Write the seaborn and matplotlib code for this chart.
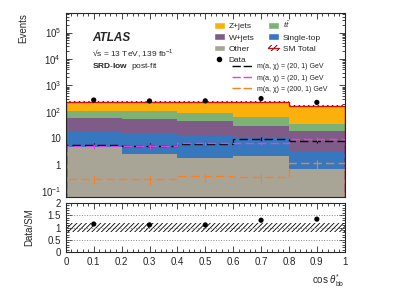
import matplotlib
matplotlib.use('Agg')
import matplotlib.pyplot as plt
import seaborn as sns
import numpy as np
import pandas as pd
from matplotlib.patches import Patch
from matplotlib.lines import Line2D
from matplotlib.ticker import FixedLocator, MultipleLocator, NullFormatter

# Data
edges = [0.0, 0.2, 0.4, 0.6, 0.8, 1.0]
centers = [0.1, 0.3, 0.5, 0.7, 0.9]

processes = ['Z+jets', r'$t\bar{t}$', 'W+jets', 'Single-top', 'Other']
zjets = [133, 124, 146, 180, 136]
ttbar = [54, 55, 45, 35, 15]
wjets = [38.5, 39.5, 32, 18.5, 15.6]
single_top = [14.9, 12.0, 10.3, 9.4, 2.7]
other = [4.6, 2.5, 1.74, 2.1, 0.68]

data = [280, 258, 260, 318, 228]
sm_unc = 0.18  # relative uncertainty of SM total

sig_labels = ['m(a, χ) = (20, 1) GeV', 'm(a, χ) = (20, 1) GeV', 'm(a, χ) = (200, 1) GeV']
sig_20_black = [5.6, 5.3, 6.3, 9.1, 8.1]
sig_20_magenta = [5.1, 5.0, 6.5, 6.8, 9.7]
sig_200 = [0.30, 0.28, 0.36, 0.34, 1.12]
sig_rel_err = [0.2, 0.2, 0.4]

colors = {'Z+jets': '#fbb00c', r'$t\bar{t}$': '#7cb276', 'W+jets': '#7f5b87',
          'Single-top': '#3777be', 'Other': '#a9a596'}

# Table for seaborn
rows = []
for proc, vals in zip(processes, [zjets, ttbar, wjets, single_top, other]):
    for c, v in zip(centers, vals):
        rows.append({'x': c, 'w': v, 'proc': proc})
df = pd.DataFrame(rows)

total = np.array(zjets) + np.array(ttbar) + np.array(wjets) + np.array(single_top) + np.array(other)
ratio = np.array(data) / total

sns.set_style('ticks')
plt.rcParams['font.family'] = ['Liberation Sans', 'DejaVu Sans']
plt.rcParams['mathtext.fontset'] = 'custom'
plt.rcParams['mathtext.rm'] = 'Liberation Sans'
plt.rcParams['mathtext.it'] = 'Liberation Sans:italic'
plt.rcParams['mathtext.bf'] = 'Liberation Sans:bold'
plt.rcParams['hatch.linewidth'] = 0.6

fig = plt.figure(figsize=(3.99, 2.88), dpi=100)
ax = fig.add_axes([0.165, 0.316, 0.699, 0.639])
ax2 = fig.add_axes([0.165, 0.125, 0.699, 0.170])

sns.histplot(data=df, x='x', weights='w', hue='proc', hue_order=processes, bins=edges,
             multiple='stack', element='step', fill=True, alpha=1, linewidth=0,
             palette=colors, legend=False, ax=ax)
ax.set_yscale('log')

# SM total with hatched uncertainty
ax.stairs(total * (1 + sm_unc * 0.5), edges, baseline=total * (1 - sm_unc * 0.3), fill=True,
          facecolor='none', edgecolor='black', hatch='///////', linewidth=0)
ax.stairs(total, edges, color='#d01010', linewidth=1.0)

# signals
sig_colors = ['black', '#e040e8', '#ff7f1e']
for vals, col, rel in zip([sig_20_black, sig_20_magenta, sig_200], sig_colors, sig_rel_err):
    ax.stairs(vals, edges, color=col, linewidth=1.0, linestyle=(0, (6, 3)))
    ax.errorbar(centers, vals, yerr=np.array(vals) * rel, fmt='none', ecolor=col, elinewidth=0.8)

# data
ax.errorbar(centers, data, yerr=np.sqrt(data), fmt='none', ecolor='black', elinewidth=0.8)
sns.scatterplot(x=centers, y=data, color='black', s=14, edgecolor='none', ax=ax, zorder=5)

ax.set_xlim(0, 1)
ax.set_ylim(0.06, 5.5e5)
ax.set_xlabel('')
ax.set_ylabel('Events', loc='top', fontsize=7)
ax.set_xticklabels([])
major = [0.1, 1, 10, 100, 1e3, 1e4, 1e5]
ax.yaxis.set_major_locator(FixedLocator(major))
ax.set_yticklabels([r'$10^{-1}$', '1', '10', r'$10^{2}$', r'$10^{3}$', r'$10^{4}$', r'$10^{5}$'])
minor = [m * 10.0 ** e for e in range(-2, 6) for m in range(2, 10)]
ax.yaxis.set_minor_locator(FixedLocator(minor))
ax.yaxis.set_minor_formatter(NullFormatter())

# labels
ax.text(0.093, 0.865, 'ATLAS', transform=ax.transAxes, fontsize=8.5, fontweight='bold',
        fontstyle='italic', va='center')
ax.text(0.093, 0.78, '\u221as = 13 TeV, 139 fb$^{-1}$', transform=ax.transAxes, fontsize=6, va='center')
ax.text(0.093, 0.71, r'$\mathbf{SRD\text{-}low}$  post-fit', transform=ax.transAxes, fontsize=6, va='center')

# legends
sm_handle = (Patch(facecolor='white', edgecolor='black', hatch='//////', linewidth=0),
             Line2D([0], [0], color='#d01010', linewidth=1.0))
handles = [Patch(facecolor=colors['Z+jets']), Patch(facecolor=colors['W+jets']),
           Patch(facecolor=colors['Other']),
           Line2D([0], [0], color='black', marker='o', markersize=3, linestyle='none'),
           Patch(facecolor=colors[r'$t\bar{t}$']), Patch(facecolor=colors['Single-top']),
           sm_handle]
labels = ['Z+jets', 'W+jets', 'Other', 'Data', r'$t\bar{t}$', 'Single-top', 'SM Total']
leg1 = ax.legend(handles, labels, ncol=2, loc='upper left', bbox_to_anchor=(0.515, 0.985),
                 frameon=False, fontsize=6, handlelength=1.4, handleheight=0.9,
                 labelspacing=0.35, columnspacing=1.6, handletextpad=0.4, borderpad=0)
ax.add_artist(leg1)
sig_handles = [Line2D([0], [0], color=c, linewidth=1.0, linestyle=(0, (6, 2))) for c in sig_colors]
ax.legend(sig_handles, sig_labels, loc='upper left', bbox_to_anchor=(0.585, 0.745),
          frameon=False, fontsize=5, handlelength=3.0, labelspacing=0.6, handletextpad=0.5,
          borderpad=0)

# ratio panel
ax2.stairs(1 + sm_unc * np.ones(5), edges, baseline=1 - sm_unc * np.ones(5), fill=True,
           facecolor='none', edgecolor='black', hatch='///////', linewidth=0)
for yv in [0.5, 1.0, 1.5]:
    ax2.axhline(yv, color='#888888', linestyle=':', linewidth=0.7)
sns.scatterplot(x=centers, y=ratio, color='black', s=14, edgecolor='none', ax=ax2, zorder=5)
ax2.set_xlim(0, 1)
ax2.set_ylim(0, 2)
ax2.set_yticks([0, 0.5, 1, 1.5, 2])
ax2.set_yticklabels(['0', '0.5', '1', '1.5', '2'])
ax2.yaxis.set_minor_locator(MultipleLocator(0.1))
ax2.set_xticks([0, 0.1, 0.2, 0.3, 0.4, 0.5, 0.6, 0.7, 0.8, 0.9, 1])
ax2.set_xticklabels(['0', '0.1', '0.2', '0.3', '0.4', '0.5', '0.6', '0.7', '0.8', '0.9', '1'])
ax2.xaxis.set_minor_locator(MultipleLocator(0.02))
ax.xaxis.set_major_locator(MultipleLocator(0.1))
ax.xaxis.set_minor_locator(MultipleLocator(0.02))
ax2.set_ylabel('Data/SM', fontsize=7)
ax2.set_xlabel(r'cos $\theta^{*}_{\rm bb}$', loc='right', fontsize=7)

for a in (ax, ax2):
    a.tick_params(which='both', direction='in', top=True, right=True, labelsize=7, width=0.6)
    a.tick_params(which='major', length=4)
    a.tick_params(which='minor', length=2)
    for s in a.spines.values():
        s.set_linewidth(0.8)
ax.yaxis.set_label_coords(-0.135, 1.0)
ax2.yaxis.set_label_coords(-0.115, 0.5)

fig.savefig('out.png', dpi=100)
